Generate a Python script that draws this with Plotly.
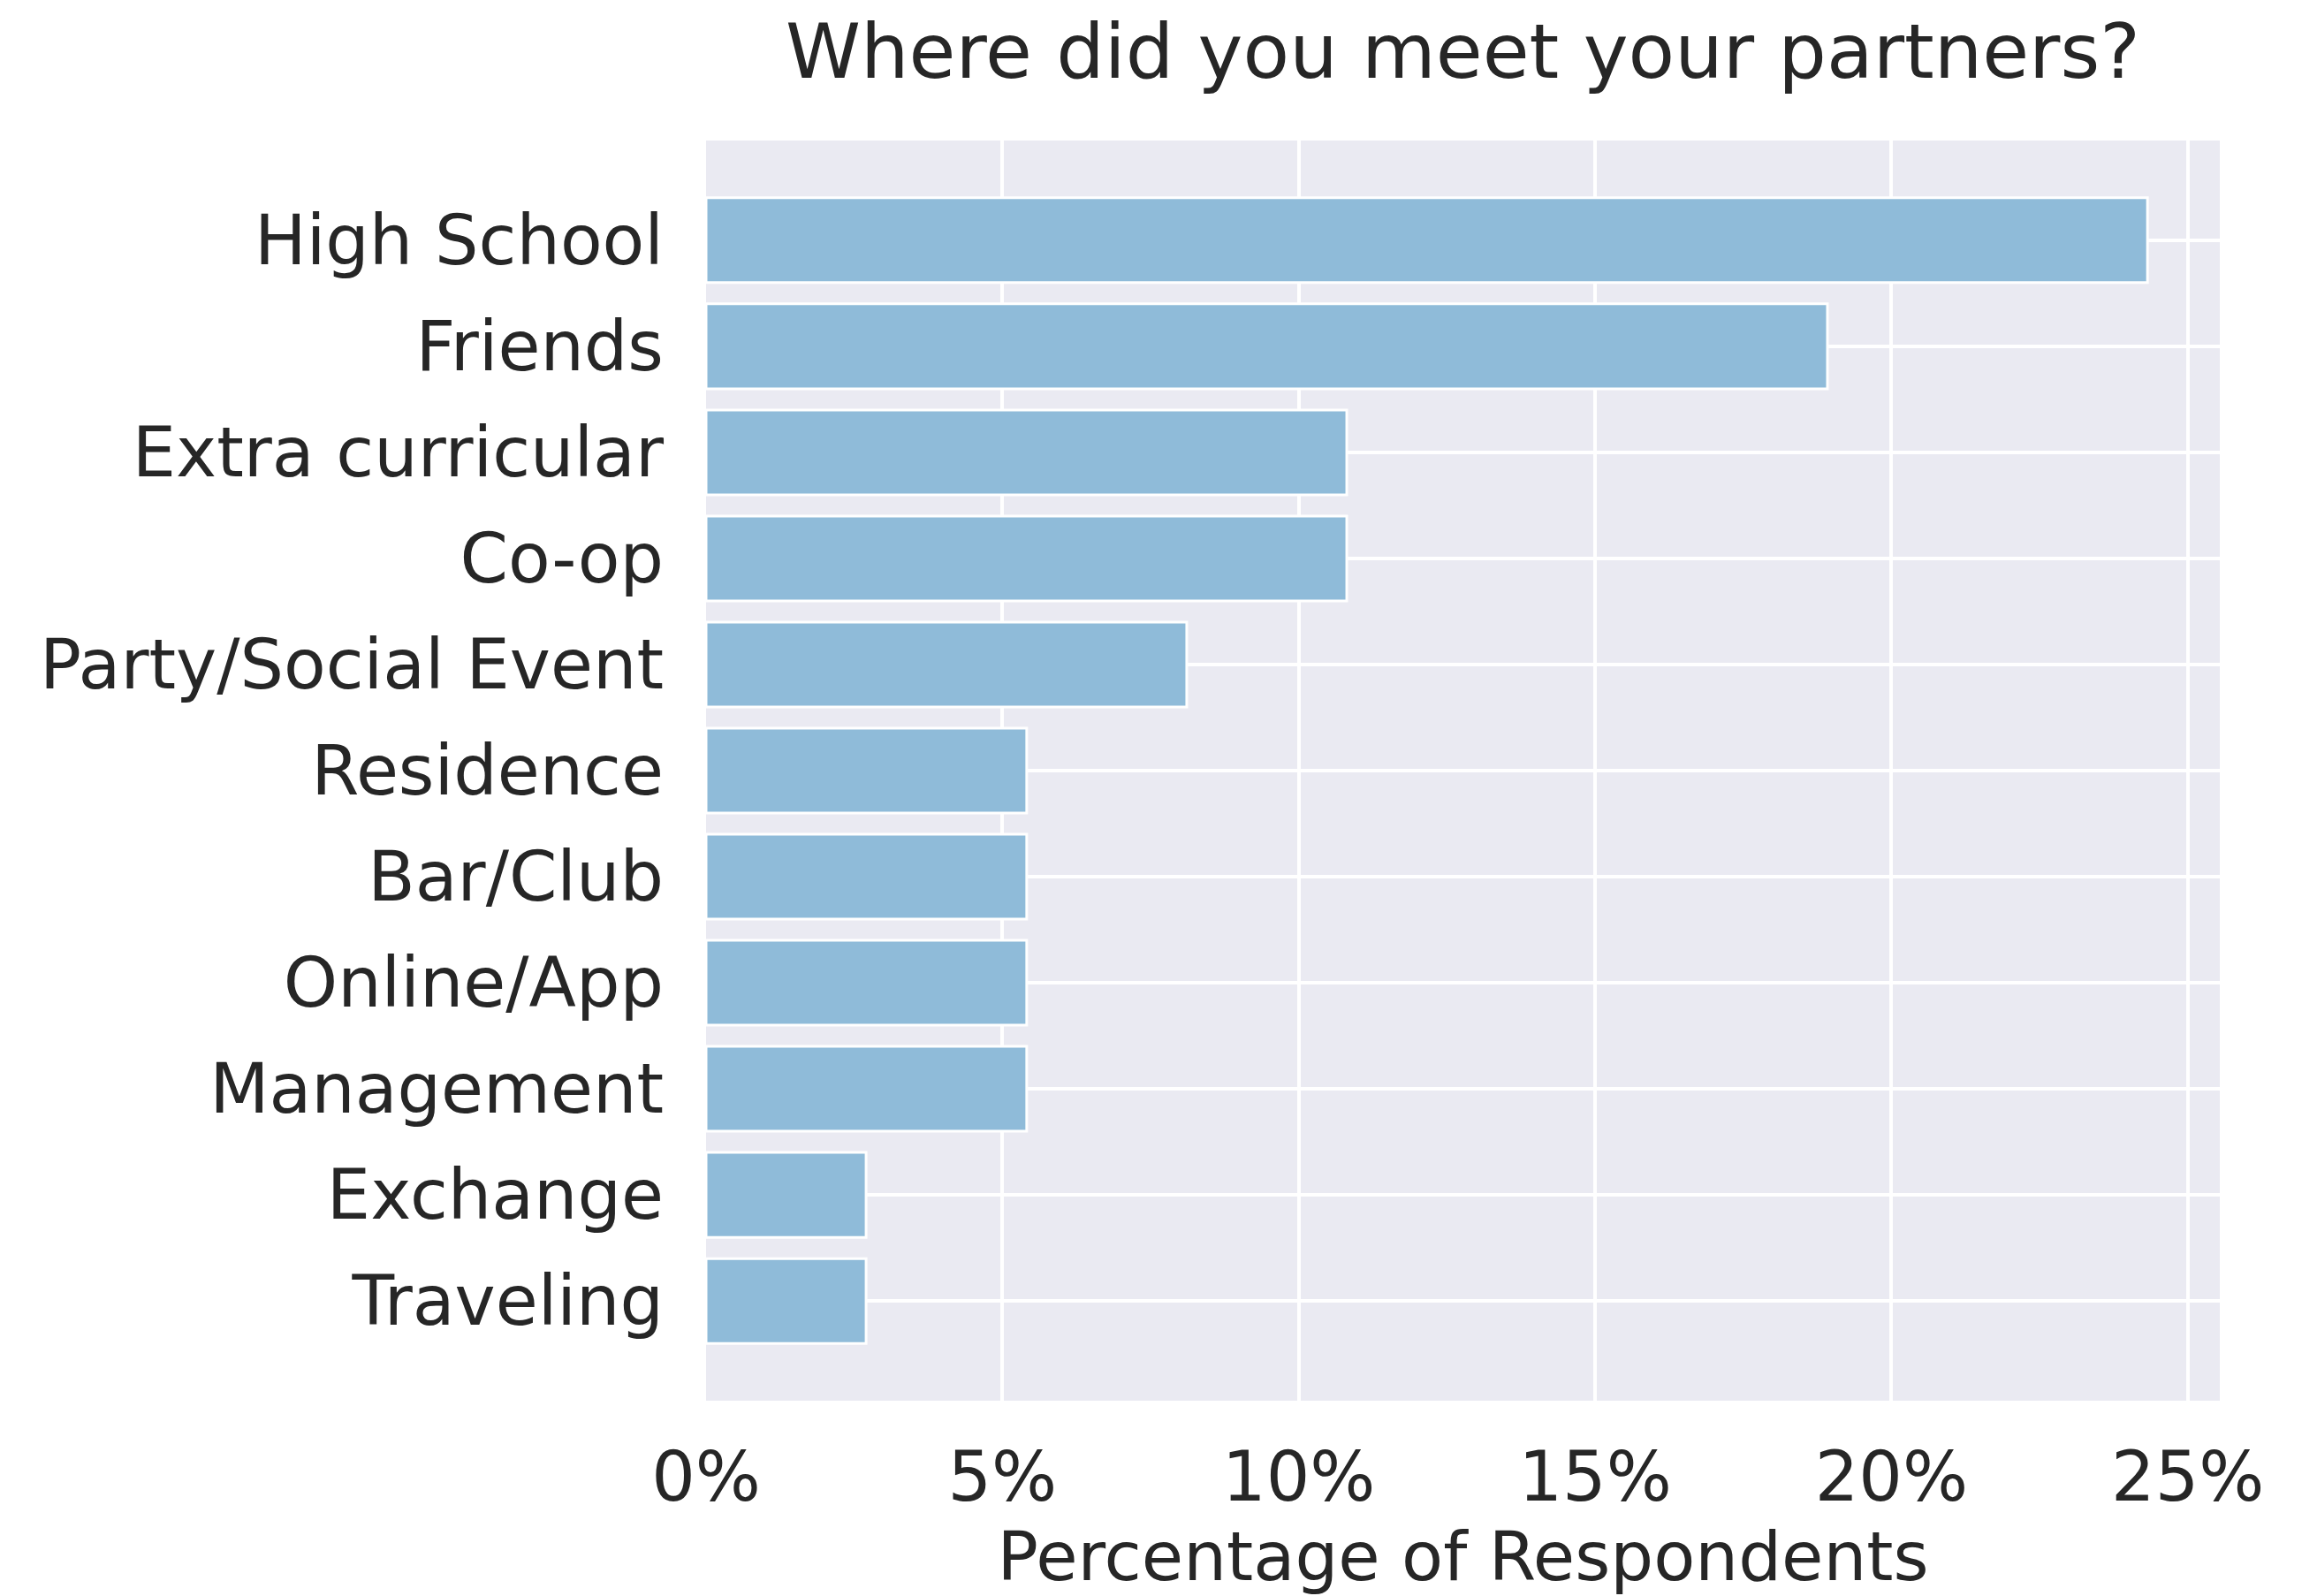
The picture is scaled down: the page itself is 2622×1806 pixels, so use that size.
import plotly.graph_objects as go

categories = ["High School", "Friends", "Extra curricular", "Co-op", "Party/Social Event",
              "Residence", "Bar/Club", "Online/App", "Management", "Exchange", "Traveling"]
percentages = [24.32, 18.92, 10.81, 10.81, 8.11, 5.41, 5.41, 5.41, 5.41, 2.70, 2.70]
x_ticks = [0, 5, 10, 15, 20, 25]
x_tick_labels = ["0%", "5%", "10%", "15%", "20%", "25%"]

TEXT = "#262626"
FONT = "DejaVu Sans"

# the page body adds an 8px offset, so the figure is 8px smaller and shifted
fig = go.Figure(go.Bar(
    x=percentages, y=categories, orientation="h", width=0.8,
    marker=dict(color="#8fbbd9", line=dict(color="white", width=3)),
))

fig.update_layout(
    width=2614, height=1798,
    margin=dict(l=791, r=110, t=151, b=221),
    paper_bgcolor="white", plot_bgcolor="#eaeaf2",
    font=dict(family=FONT, color=TEXT, size=78),
    title=dict(text="Where did you meet your partners?", x=0.5, xanchor="center",
               xref="paper", y=1 - 80 / 1798, yanchor="bottom", yref="container",
               pad=dict(t=0, b=0),
               font=dict(size=86, color=TEXT)),
    showlegend=False,
    bargap=0.2,
)
fig.update_xaxes(
    range=[0, 25.54], tickvals=x_ticks, ticktext=x_tick_labels,
    showgrid=True, gridcolor="white", gridwidth=4, zeroline=False,
    showline=False, ticks="", ticklabelstandoff=34, automargin=False,
    title=dict(text="Percentage of Respondents", standoff=20, font=dict(size=77)),
)
fig.update_yaxes(
    categoryorder="array", categoryarray=categories,
    range=[10.94, -0.94],
    showgrid=True, gridcolor="white", gridwidth=4, zeroline=False,
    showline=False, ticks="", ticklabelstandoff=47, automargin=False,
)

fig.write_html("out.html")
